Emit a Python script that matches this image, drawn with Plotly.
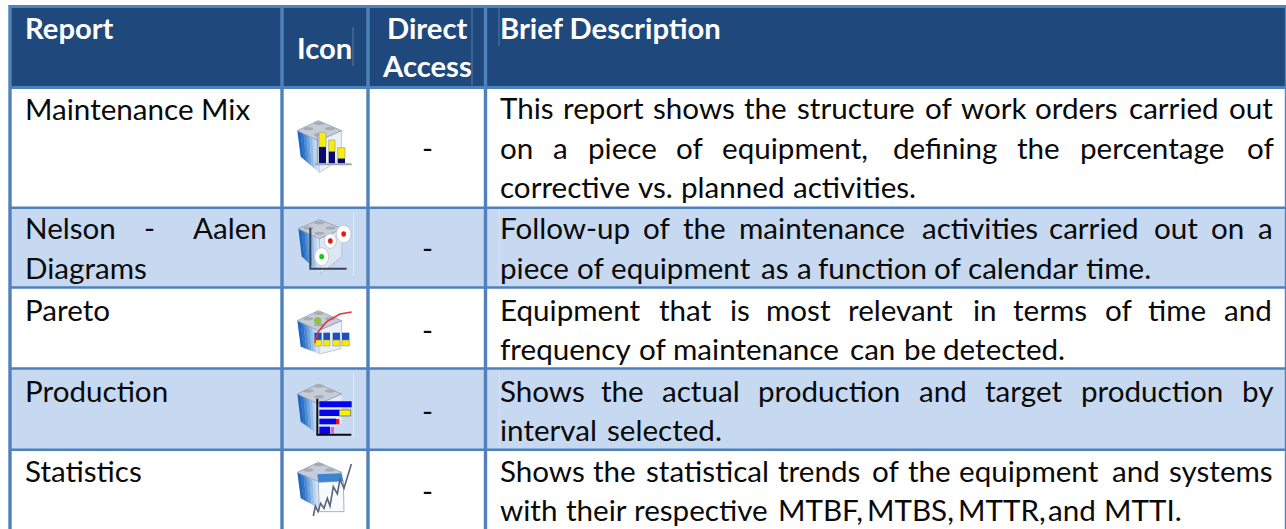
import plotly.graph_objects as go

# ---------- content ----------
HEADERS = ["Report", "Icon", "Direct", "Access", "Brief Description"]
REPORTS = [["Maintenance Mix"], ["Nelson", "-", "Aalen"], ["Diagrams"], ["Pareto"], ["Production"], ["Statistics"]]
DIRECT = ["-", "-", "-", "-", "-"]
DESC = [
    "This report shows the structure of work orders carried out",
    "on a piece of equipment, defining the percentage of",
    "corrective vs. planned activities.",
    "Follow-up of the maintenance activities carried out on a",
    "piece of equipment as a function of calendar time.",
    "Equipment that is most relevant in terms of time and",
    "frequency of maintenance can be detected.",
    "Shows the actual production and target production by",
    "interval selected.",
    "Shows the statistical trends of the equipment and systems",
    "with their respective MTBF, MTBS, MTTR, and MTTI.",
]

# ---------- layout (pixels) ----------
W, H = 1286, 529
NAVY, BLUE, PALE = "#1F497D", "#4F81BD", "#C6D9F0"
FONT, SIZE, HEAD_SIZE = "Lato", 29.6, 29.2
COL_X = [10, 282, 368, 485.5, 1285.5]
ROW_Y = [6.5, 87.5, 207.8, 287.5, 368.5, 449.8]
DESC_BASE = [118, 158, 197, 238, 278, 320, 359, 401, 440, 481, 520]
DESC_X = [
    [500, 563, 653, 744, 797, 925, 961, 1035, 1129, 1229],
    [500, 553, 588, 676, 722, 893, 1017, 1080, 1247],
    [500, 638, 681, 793],
    [500, 643, 683, 739, 922, 1049, 1154, 1211, 1258],
    [500, 577, 611, 761, 797, 818, 934, 968, 1086],
    [500, 659, 730, 766, 848, 973, 1013, 1105, 1148, 1224],
    [500, 639, 673, 850, 904, 943],
    [500, 601, 662, 758, 919, 985, 1081, 1242],
    [500, 607],
    [500, 593, 646, 778, 872, 908, 959, 1112, 1169],
    [500, 566, 634, 778, 867, 958, 1048, 1104],
]
REPORT_X = [[25], [25, 149, 267], [25], [25], [25], [25]]
REPORT_BASE = [119, 238, 278, 320, 401, 481]
REPORT_ANCHOR = [["left"], ["left", "center", "right"], ["left"], ["left"], ["left"], ["left"]]
DIRECT_Y = [149, 249, 331, 412, 492]
BASE_SHIFT = 0.25
FACE_BANDS = ["#1F66BE", "#2F74C8", "#4C8AD4", "#6FA3DC", "#93BBE6", "#B9D2EE", "#D5E4F5"]

shapes, annos = [], []

def rect(x0, y0, x1, y1, color):
    shapes.append(dict(type="rect", x0=x0, y0=y0, x1=x1, y1=y1, fillcolor=color,
                       line=dict(width=0), layer="below"))

def seg(x0, y0, x1, y1, color, w, layer="above"):
    shapes.append(dict(type="line", x0=x0, y0=y0, x1=x1, y1=y1,
                       line=dict(color=color, width=w), layer=layer))

def poly(pts, ox, oy, fill=None, line=None, lw=1, scale=3.0):
    d = "M" + " L".join(f"{ox + a / scale:.2f},{oy + b / scale:.2f}" for a, b in pts)
    if fill:
        d += " Z"
    shapes.append(dict(type="path", path=d, fillcolor=fill if fill else "rgba(0,0,0,0)",
                       line=dict(color=line if line else "rgba(0,0,0,0)", width=lw if line else 0),
                       layer="above"))

def disc(cx, cy, rx, ry, ox, oy, fill, line=None, lw=1):
    shapes.append(dict(type="circle", x0=ox + (cx - rx) / 3, x1=ox + (cx + rx) / 3,
                       y0=oy + (cy - ry) / 3, y1=oy + (cy + ry) / 3, fillcolor=fill,
                       line=dict(color=line if line else "rgba(0,0,0,0)", width=lw if line else 0),
                       layer="above"))

def face(tl, tr, br, bl, ox, oy):
    """Left cube face as vertical shading bands running from tl/bl to tr/br."""
    n = len(FACE_BANDS)
    def mix(p, q, t):
        return (p[0] + (q[0] - p[0]) * t, p[1] + (q[1] - p[1]) * t)
    for i, c in enumerate(FACE_BANDS):
        a, b = i / n, min(1, (i + 1.15) / n)
        poly([mix(tl, tr, a), mix(tl, tr, b), mix(bl, br, b), mix(bl, br, a)], ox, oy, fill=c)

def text(x, base, s, anchor="left", bold=False, color="#0a0a0a", size=SIZE):
    annos.append(dict(x=x, y=base + BASE_SHIFT * size, text=f"<b>{s}</b>" if bold else s, xref="x", yref="y",
                      xanchor=anchor, yanchor="bottom", showarrow=False, align=anchor,
                      font=dict(family=FONT, size=size, color=color), borderpad=0, borderwidth=0))

def cube(ox, oy, tall=218):
    """Shared grey-lidded blue cube, in 3x zoom units relative to (ox, oy)."""
    face((52, 92), (115, 122), (118, tall), (62, 170), ox, oy)
    poly([(115, 122), (185, 92), (183, 176), (118, tall)], ox, oy, fill="#EAF0F8", line="#A9B6CB", lw=0.7)
    poly([(52, 92), (115, 62), (185, 92), (115, 122)], ox, oy, fill="#C6CDD9", line="#8C9BB4", lw=0.8)
    for cx, cy in [(117, 70), (85, 86), (150, 86), (117, 104)]:
        disc(cx, cy, 15, 5, ox, oy, "#A8ACB2")

# table fills
rect(COL_X[0], ROW_Y[0], COL_X[-1], ROW_Y[1], NAVY)
rect(COL_X[0], ROW_Y[2], COL_X[-1], ROW_Y[3], PALE)
rect(COL_X[0], ROW_Y[4], COL_X[-1], ROW_Y[5], PALE)

# faint inner hairlines
for x, y0, y1 in [(353, 27, 66), (472, 8, 86), (499, 8, 46)]:
    seg(x, y0, x, y1, "#6F8FB5", 0.7)
for y0, y1 in [(209, 286), (370, 448)]:
    seg(499.5, y0, 499.5, y1, "#D4E2F4", 1)
    seg(353.5, y0 + 3, 353.5, y1 - 10, "#DDE8F6", 1)

# borders
for x in COL_X[:-1]:
    seg(x, ROW_Y[0] - 1.5, x, H, BLUE, 3.4)
seg(COL_X[-1], ROW_Y[0] - 1.5, COL_X[-1], H, BLUE, 1.4)
for i, y in enumerate(ROW_Y):
    seg(COL_X[0], y, W, y, BLUE, 3 if i < 2 else 2.6)

# icon 1: Maintenance Mix
ox, oy = 280, 100
cube(ox, oy)
for x0, x1, ytop, ymid in [(117, 138, 97, 141), (146, 165, 120, 155), (173, 195, 143, 176)]:
    poly([(x0, ytop), (x1, ytop), (x1, ymid), (x0, ymid)], ox, oy, fill="#F5EE0A", line="#8E9A9E", lw=0.6)
    poly([(x0, ymid), (x1, ymid), (x1, 190), (x0, 190)], ox, oy, fill="#0A0A6B")
poly([(105, 193), (215, 193)], ox, oy, line="#9AA6B8", lw=2)
poly([(112, 100), (112, 193)], ox, oy, line="#9AA6B8", lw=1.5)

# icon 2: Nelson - Aalen
ox, oy = 285, 208
face((40, 62), (103, 92), (106, 198), (50, 145), ox, oy)
poly([(103, 92), (172, 62), (170, 146), (106, 198)], ox, oy, fill="#DDE6F2", line="#A9B6CB", lw=0.7)
poly([(40, 62), (103, 35), (172, 62), (103, 92)], ox, oy, fill="#C6CDD9", line="#8C9BB4", lw=0.8)
for cx, cy in [(103, 44), (70, 60), (137, 60), (103, 76)]:
    disc(cx, cy, 15, 5, ox, oy, "#A8ACB2")
poly([(76, 60), (76, 182), (185, 182)], ox, oy, line="#3A4356", lw=2)
for cx, cy, rx, ry, c in [(136, 99, 18, 22, "#F2130F"), (176, 78, 22, 26, "#F2130F"), (110, 146, 21, 27, "#18C414")]:
    disc(cx, cy, rx, ry, ox, oy, "white", "#B7BDC6", 0.7)
    disc(cx, cy, 7, 8, ox, oy, c)

# icon 3: Pareto
ox, oy = 280, 290
cube(ox, oy, tall=192)
disc(113, 92, 11, 11, ox, oy, "#8FC040")
for x0, x1 in [(103, 125), (130, 150), (158, 180), (186, 208)]:
    poly([(x0, 128), (x1, 128), (x1, 150), (x0, 150)], ox, oy, fill="#1B4FC0")
    poly([(x0, 150), (x1, 150), (x1, 168), (x0, 168)], ox, oy, fill="#F7E80F", line="#8A8E78", lw=0.5)
poly([(104, 160), (115, 125), (140, 95), (180, 72), (215, 66)], ox, oy, line="#E4333F", lw=1.5)

# icon 4: Production
face((52, 312), (115, 342), (118, 436), (62, 395), ox, oy)
poly([(115, 342), (185, 312), (185, 400), (118, 436)], ox, oy, fill="#E2EAF5")
poly([(52, 312), (115, 282), (185, 312), (115, 342)], ox, oy, fill="#C6CDD9", line="#8C9BB4", lw=0.8)
for cx, cy in [(117, 288), (85, 303), (150, 303), (117, 320)]:
    disc(cx, cy, 15, 5, ox, oy, "#A8ACB2")
for x1, y0, y1 in [(215, 334, 352), (178, 359, 378), (168, 386, 403), (150, 410, 432)]:
    poly([(118, y0), (x1, y0), (x1, y1), (118, y1)], ox, oy, fill="#0505E8")
poly([(178, 360), (212, 360), (212, 378), (178, 378)], ox, oy, fill="#F5F010", line="#30301A", lw=0.5)
poly([(168, 387), (178, 387), (178, 403), (168, 403)], ox, oy, fill="#EE1010")
poly([(152, 411), (162, 411), (162, 430), (152, 430)], ox, oy, fill="#E060D8")
poly([(112, 326), (112, 434), (214, 434)], ox, oy, line="#0A0A14", lw=2)

# icon 5: Statistics
face((52, 547), (115, 577), (118, 655), (62, 625), ox, oy)
poly([(115, 577), (190, 573), (192, 665), (118, 665)], ox, oy, fill="#F8FAFD", line="#A4B0C2", lw=1)
poly([(52, 547), (115, 517), (185, 547), (115, 575)], ox, oy, fill="#C6CDD9", line="#8C9BB4", lw=0.8)
poly([(112, 553), (185, 550), (190, 573), (115, 577)], ox, oy, fill="#3F84D0")
for cx, cy in [(117, 524), (85, 540), (150, 540)]:
    disc(cx, cy, 15, 5, ox, oy, "#A8ACB2")
poly([(100, 678), (106, 648), (114, 665), (122, 640), (132, 655), (142, 625), (150, 648), (160, 590),
      (172, 612), (180, 568), (192, 595), (214, 522)], ox, oy, line="#566579", lw=1.6)

# header text
text(25, 37.5, HEADERS[0], bold=True, color="white", size=HEAD_SIZE)
text(324.5, 57.5, HEADERS[1], anchor="center", bold=True, color="white", size=HEAD_SIZE)
text(427, 37.5, HEADERS[2], anchor="center", bold=True, color="white", size=HEAD_SIZE)
text(427, 75.5, HEADERS[3], anchor="center", bold=True, color="white", size=HEAD_SIZE)
text(500, 37.5, HEADERS[4], bold=True, color="white", size=HEAD_SIZE)

# first column
for words, xs, anchors, base in zip(REPORTS, REPORT_X, REPORT_ANCHOR, REPORT_BASE):
    for w, x, a in zip(words, xs, anchors):
        text(x, base, w, anchor=a)

# direct-access column
for s, y in zip(DIRECT, DIRECT_Y):
    text(427, y + 9, s, anchor="center")

# justified description lines
for line, xs, base in zip(DESC, DESC_X, DESC_BASE):
    for w, x in zip(line.split(" "), xs):
        text(x, base, w)

fig = go.Figure()
fig.add_trace(go.Scatter(x=[0, W], y=[0, H], mode="markers", marker=dict(opacity=0), hoverinfo="skip", showlegend=False))
fig.update_layout(width=W, height=H, margin=dict(l=0, r=0, t=0, b=0), paper_bgcolor="white", plot_bgcolor="white",
                  shapes=shapes, annotations=annos, showlegend=False,
                  xaxis=dict(range=[0, W], visible=False, fixedrange=True),
                  yaxis=dict(range=[H, 0], visible=False, fixedrange=True))
fig.write_html("out.html", config=dict(displayModeBar=False),
               post_script="document.body.style.margin='0';document.body.style.overflow='hidden';")
